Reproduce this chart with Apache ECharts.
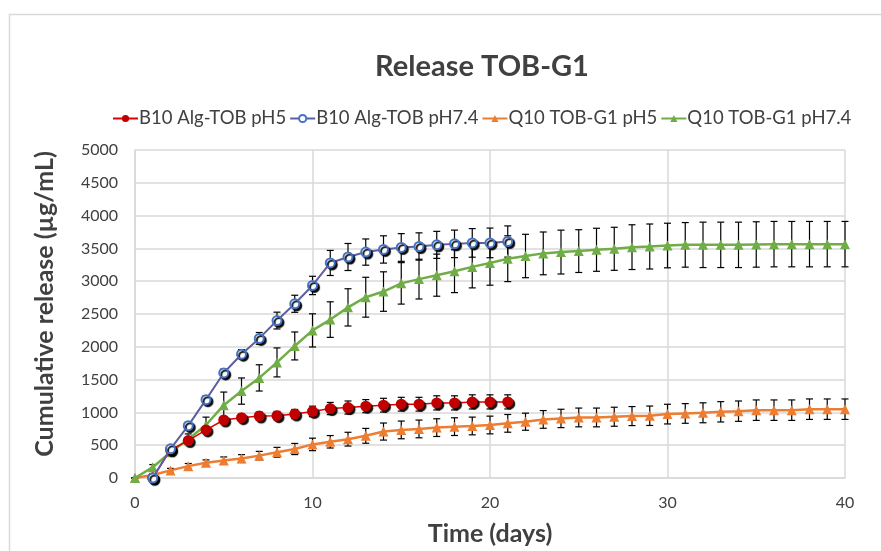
<!DOCTYPE html>
<html>
<head>
<meta charset="utf-8">
<script src="https://cdn.jsdelivr.net/npm/echarts@6/dist/echarts.min.js"></script>
<style>
  html, body { margin: 0; padding: 0; background: #fff; }
  #chart { width: 881px; height: 551px; }
</style>
</head>
<body>
<div id="chart"></div>
<script>
// Release time points (days)
const daysB = [1, 2, 3, 4, 5, 6, 7, 8, 9, 10, 11, 12, 13, 14, 15, 16, 17, 18, 19, 20, 21];
const daysQ = [0, 1, 2, 3, 4, 5, 6, 7, 8, 9, 10, 11, 12, 13, 14, 15, 16, 17, 18, 19, 20,
               21, 22, 23, 24, 25, 26, 27, 28, 29, 30, 31, 32, 33, 34, 35, 36, 37, 38, 39, 40];

// B10 Alg-TOB, pH 5
const b10pH5 = [0, 430, 570, 733, 884, 919, 945, 950, 975, 1015, 1059, 1074, 1095, 1110, 1125, 1125, 1145, 1145, 1160, 1160, 1160];
const b10pH5Err = [10, 30, 40, 45, 50, 55, 60, 65, 70, 80, 93, 100, 100, 105, 105, 105, 108, 108, 108, 108, 108];

// B10 Alg-TOB, pH 7.4
const b10pH74 = [0, 445, 798, 1194, 1601, 1887, 2128, 2400, 2656, 2935, 3278, 3369, 3444, 3484, 3514, 3529, 3554, 3569, 3584, 3584, 3605];
const b10pH74Err = [10, 40, 50, 60, 60, 70, 90, 128, 130, 140, 191, 206, 200, 208, 211, 208, 206, 210, 218, 226, 238];

// Q10 TOB-G1, pH 5
const q10pH5 = [0, 45, 116, 181, 231, 266, 296, 341, 392, 442, 512, 552, 592, 643, 708, 733, 748, 768, 783, 793, 808,
                833, 858, 893, 908, 923, 923, 934, 944, 949, 974, 984, 994, 1009, 1019, 1034, 1034, 1034, 1049, 1049, 1049];
const q10pH5Err = [0, 20, 30, 40, 45, 55, 60, 65, 75, 85, 95, 95, 105, 113, 130, 135, 135, 135, 135, 135, 135,
                   135, 130, 135, 140, 143, 143, 145, 145, 148, 150, 150, 152, 155, 155, 156, 156, 156, 156, 156, 156];

// Q10 TOB-G1, pH 7.4
const q10pH74 = [0, 165, 392, 592, 808, 1110, 1325, 1526, 1762, 2013, 2250, 2415, 2601, 2756, 2842, 2967, 3032, 3092, 3152, 3218, 3278,
                 3343, 3384, 3424, 3444, 3459, 3479, 3494, 3519, 3529, 3544, 3554, 3554, 3554, 3554, 3560, 3565, 3565, 3565, 3565, 3565];
const q10pH74Err = [0, 40, 60, 80, 120, 200, 200, 200, 221, 213, 253, 271, 284, 304, 301, 316, 303, 321, 326, 320, 339,
                    349, 331, 326, 334, 326, 328, 328, 341, 343, 340, 340, 346, 346, 346, 346, 346, 346, 346, 346, 346];

const xTicks = [0, 10, 20, 30, 40];
const yTicks = [0, 500, 1000, 1500, 2000, 2500, 3000, 3500, 4000, 4500, 5000];

const seriesNames = ['B10 Alg-TOB pH5', 'B10 Alg-TOB pH7.4', 'Q10 TOB-G1 pH5', 'Q10 TOB-G1 pH7.4'];

const FONT = 'Lato, "Open Sans", sans-serif';
const TEXT = '#404040';

function pairs(xs, ys) { return xs.map((x, i) => [x, ys[i]]); }
function errRows(xs, ys, es) { return xs.map((x, i) => [x, ys[i] - es[i], ys[i] + es[i]]); }

// Vertical error bar with caps
function errorBarItem(params, api) {
  const x = api.value(0);
  const lo = api.coord([x, api.value(1)]);
  const hi = api.coord([x, api.value(2)]);
  const cap = 3.5;
  const style = { stroke: '#000', lineWidth: 1.2 };
  return {
    type: 'group',
    children: [
      { type: 'line', shape: { x1: lo[0], y1: lo[1], x2: hi[0], y2: hi[1] }, style },
      { type: 'line', shape: { x1: lo[0] - cap, y1: lo[1], x2: lo[0] + cap, y2: lo[1] }, style },
      { type: 'line', shape: { x1: hi[0] - cap, y1: hi[1], x2: hi[0] + cap, y2: hi[1] }, style }
    ]
  };
}

function errSeries(xs, ys, es, z) {
  return {
    type: 'custom',
    renderItem: errorBarItem,
    data: errRows(xs, ys, es),
    encode: { x: 0, y: [1, 2] },
    z: z,
    silent: true,
    legendHoverLink: false,
    tooltip: { show: false }
  };
}

const shadow = { shadowColor: 'rgba(0,0,0,0.95)', shadowBlur: 1, shadowOffsetX: 2, shadowOffsetY: 2 };

const chart = echarts.init(document.getElementById('chart'), null, { renderer: 'canvas' });

chart.setOption({
  animation: false,
  backgroundColor: '#fff',
  textStyle: { fontFamily: FONT },
  graphic: [{
    type: 'rect',
    shape: { x: 9.5, y: 14.5, width: 900, height: 600 },
    style: { fill: 'none', stroke: '#d9d9d9', lineWidth: 1.5 },
    silent: true,
    z: -10
  }],
  title: {
    text: 'Release TOB-G1',
    left: 477,
    top: 47,
    textAlign: 'center',
    textStyle: { fontFamily: FONT, fontSize: 29, fontWeight: 'bold', color: TEXT }
  },
  legend: {
    data: seriesNames,
    left: 107,
    top: 104,
    itemWidth: 25,
    itemHeight: 9,
    itemGap: 3,
    textStyle: { fontFamily: FONT, fontSize: 18.5, color: TEXT, padding: [0, 0, 0, -4] }
  },
  grid: { left: 135, right: 36, top: 150, bottom: 69, containLabel: false },
  xAxis: {
    type: 'value',
    min: 0, max: 40, interval: 10,
    name: 'Time (days)',
    nameLocation: 'middle',
    nameGap: 43,
    nameTextStyle: { fontFamily: FONT, fontSize: 25, fontWeight: 'bold', color: TEXT },
    axisLine: { show: true, lineStyle: { color: '#d9d9d9', width: 1.5 } },
    axisTick: { show: false },
    axisLabel: { fontFamily: FONT, fontSize: 16, color: TEXT, margin: 17,
      formatter: v => xTicks.includes(v) ? String(v) : '' },
    splitLine: { show: true, lineStyle: { color: '#d9d9d9', width: 1.5 } }
  },
  yAxis: {
    type: 'value',
    min: 0, max: 5000, interval: 500,
    name: 'Cumulative release (µg/mL)',
    nameLocation: 'middle',
    nameGap: 78,
    nameTextStyle: { fontFamily: FONT, fontSize: 25, fontWeight: 'bold', color: TEXT, padding: [0, 0, 0, 20] },
    axisLine: { show: true, lineStyle: { color: '#d9d9d9', width: 1.5 } },
    axisTick: { show: false },
    axisLabel: { fontFamily: FONT, fontSize: 16, color: TEXT, margin: 17,
      formatter: v => yTicks.includes(v) ? String(v) : '' },
    splitLine: { show: true, lineStyle: { color: '#d9d9d9', width: 1.5 } }
  },
  series: [
    errSeries(daysQ, q10pH5, q10pH5Err, 2),
    errSeries(daysQ, q10pH74, q10pH74Err, 2),
    errSeries(daysB, b10pH5, b10pH5Err, 2),
    errSeries(daysB, b10pH74, b10pH74Err, 2),
    {
      name: seriesNames[2],
      type: 'line',
      data: pairs(daysQ, q10pH5),
      symbol: 'triangle',
      symbolSize: 10,
      lineStyle: { color: '#ED7D31', width: 2.5 },
      itemStyle: { color: '#ED7D31' },
      z: 3
    },
    {
      name: seriesNames[3],
      type: 'line',
      data: pairs(daysQ, q10pH74),
      symbol: 'triangle',
      symbolSize: 10,
      lineStyle: { color: '#70AD47', width: 2.5 },
      itemStyle: { color: '#70AD47' },
      z: 3
    },
    {
      name: seriesNames[0],
      type: 'line',
      data: pairs(daysB, b10pH5),
      symbol: 'circle',
      symbolSize: 11,
      lineStyle: { color: '#E00000', width: 1.5 },
      itemStyle: Object.assign({ color: '#C00000' }, shadow),
      z: 4
    },
    {
      name: seriesNames[1],
      type: 'line',
      data: pairs(daysB, b10pH74),
      symbol: 'emptyCircle',
      symbolSize: 9,
      lineStyle: { color: '#5F5FA0', width: 2 },
      itemStyle: Object.assign({ color: '#4472C4', borderColor: '#4472C4', borderWidth: 1.3 }, shadow),
      z: 5
    }
  ]
});
</script>
</body>
</html>
